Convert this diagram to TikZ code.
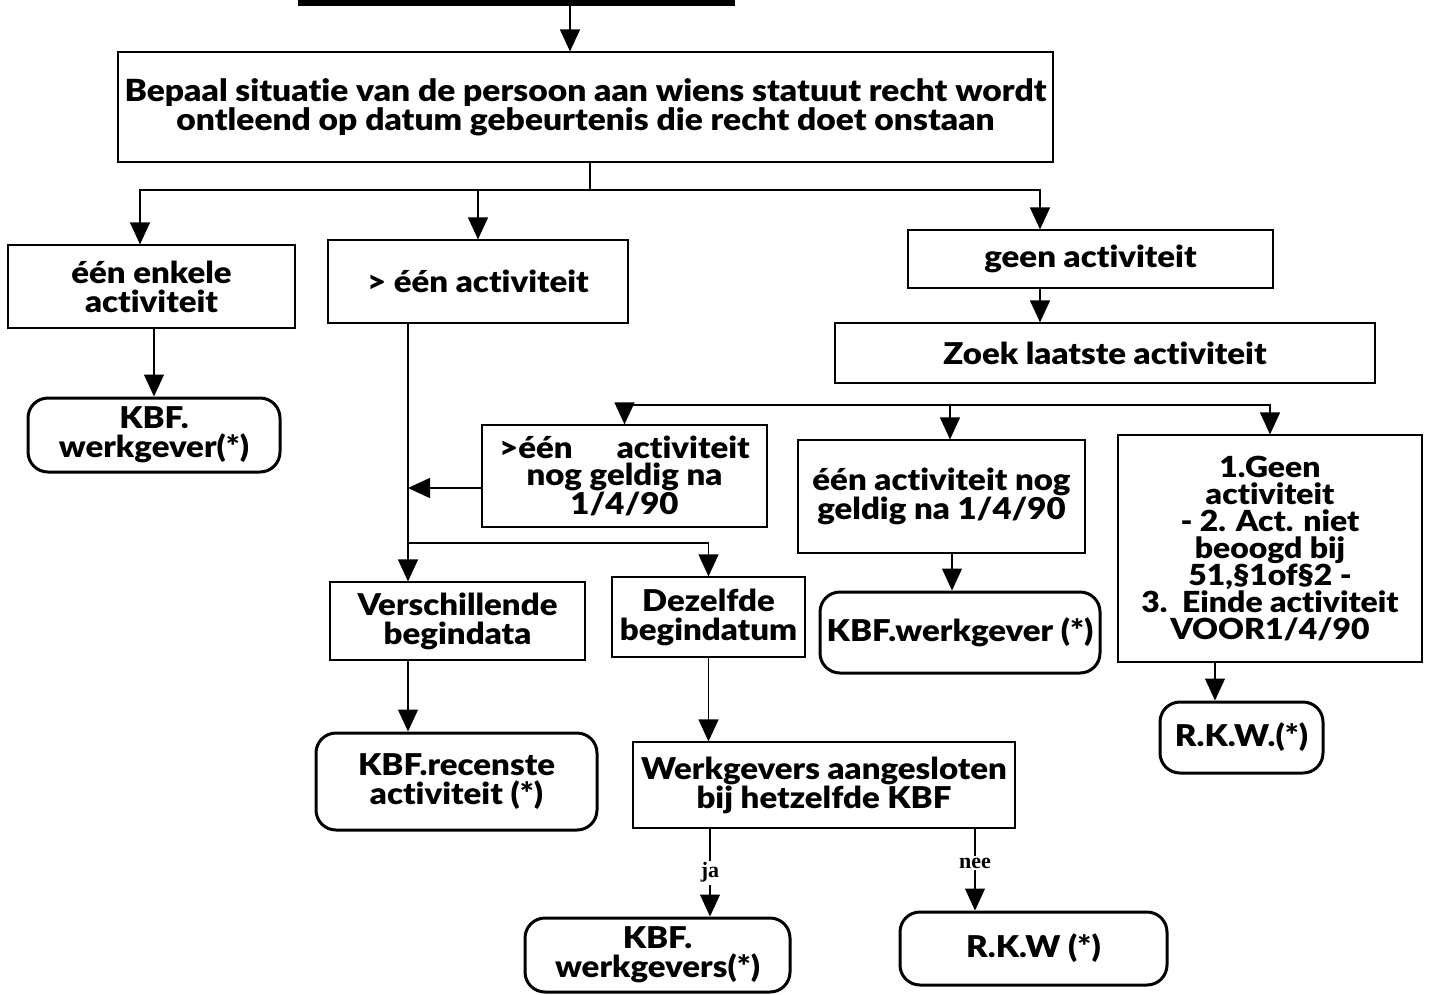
\documentclass[tikz,border=0pt]{standalone}
\usepackage{fontspec}
\setmainfont{Lato}[BoldFont={Lato Black}, BoldFeatures={FakeStretch=1.1}, Ligatures=NoCommon]
\newfontfamily\labelfont{Liberation Serif}
\usetikzlibrary{arrows.meta}

\begin{document}
\begin{tikzpicture}[x=1pt,y=-1pt,
		box/.style={draw, line width=1.2pt, align=center, inner sep=0pt, font=\fontsize{30}{29}\selectfont\bfseries},
		endbox/.style={box, line width=3pt, rounded corners=20pt},
		arr/.style={line width=1.2pt, -{Triangle[width=20pt,length=22pt]}},
		lijn/.style={line width=1.2pt},
		lbl/.style={fill=white, inner sep=2pt, font=\fontsize{22}{22}\selectfont\labelfont\bfseries}]
		\useasboundingbox (0,0) rectangle (1430,994);

		\node[fill=black, minimum width=437pt, minimum height=6pt, inner sep=0pt] (balk) at (516.5,3) {};
		\node[box, minimum width=935pt, minimum height=110pt, font=\fontsize{30.5}{23}\selectfont\bfseries] (bepaal) at (585.5,107) {Bepaal situatie van de persoon aan wiens statuut recht wordt\\ontleend op datum gebeurtenis die recht doet onstaan};

		\node[box, minimum width=287pt, minimum height=83pt] (enkel) at (151.5,286.5) {één enkele\\activiteit};
		\node[box, minimum width=300pt, minimum height=83pt] (meer) at (478,281.5) {> één activiteit};
		\node[box, minimum width=365pt, minimum height=58pt] (geen) at (1090.5,259) {geen activiteit};
		\node[box, minimum width=540pt, minimum height=60pt] (zoek) at (1105,353) {Zoek laatste activiteit};
		\node[endbox, minimum width=252pt, minimum height=74pt] (kbfeen) at (154,435) {KBF.\\werkgever(*)};

		\node[box, minimum width=285pt, minimum height=102pt, font=\fontsize{30}{27}\selectfont\bfseries] (meergeldig) at (624.5,476) {>één\hspace{44pt}activiteit\\nog geldig na\\1/4/90};
		\node[box, minimum width=287pt, minimum height=113pt] (eengeldig) at (941.5,496.5) {één activiteit nog\\geldig na 1/4/90};
		\node[box, minimum width=304pt, minimum height=227pt, font=\fontsize{29}{27}\selectfont\bfseries] (geenact) at (1270,548.5) {1.Geen\\activiteit\\- 2. Act. niet\\beoogd bij\\51,§1of§2 -\\3.~~Einde activiteit\\VOOR1/4/90};

		\node[box, minimum width=255pt, minimum height=78pt] (verschil) at (457.5,621) {Verschillende\\begindata};
		\node[box, minimum width=193pt, minimum height=80pt] (zelfde) at (708.5,617) {Dezelfde\\begindatum};
		\node[endbox, minimum width=280pt, minimum height=81pt] (kbfwg) at (960,632.5) {KBF.werkgever (*)};
		\node[endbox, minimum width=163pt, minimum height=71pt] (rkween) at (1241.5,737.5) {R.K.W.(*)};

		\node[endbox, minimum width=281pt, minimum height=97pt] (kbfrec) at (456.5,781.5) {KBF.recenste\\activiteit (*)};
		\node[box, minimum width=382pt, minimum height=86pt] (werkg) at (824,785) {Werkgevers aangesloten\\bij hetzelfde KBF};
		\node[endbox, minimum width=265pt, minimum height=74pt] (kbfwgs) at (657.5,955) {KBF.\\werkgevers(*)};
		\node[endbox, minimum width=267pt, minimum height=73pt] (rkwtwee) at (1033.5,948.5) {R.K.W (*)};

		\coordinate (k1) at (570,0);
		\coordinate (s1) at (590,190);
		\coordinate (k2) at (140,0);
		\coordinate (k3) at (1040,0);
		\coordinate (s2) at (950,405);
		\coordinate (s3) at (408,543);
		\coordinate (k4) at (0,488);
		\coordinate (k5) at (710,0);
		\coordinate (k6) at (975,0);
		\coordinate (k7) at (952,0);
		\coordinate (k8) at (1215,0);

		\draw[arr] (balk.south -| k1) -- (bepaal.north -| k1);
		\draw[lijn] (bepaal.south -| s1) -- (s1);
		\draw[arr] (s1) -| (enkel.north -| k2);
		\draw[arr] (s1) -| (geen.north -| k3);
		\draw[arr] (s1 -| meer) -- (meer.north);
		\draw[arr] (geen.south -| k3) -- (zoek.north -| k3);
		\draw[arr] (enkel.south -| kbfeen) -- (kbfeen.north);

		\draw[arr] (s2) -| (meergeldig.north);
		\draw[arr] (s2) -| (geenact.north);
		\draw[arr] (s2) -- (eengeldig.north -| s2);
		\draw[arr] (eengeldig.south -| k7) -- (kbfwg.north -| k7);
		\draw[arr] (geenact.south -| k8) -- (rkween.north -| k8);

		\draw[lijn] (meer.south -| s3) -- (s3);
		\draw[arr] (meergeldig.west |- k4) -- (s3 |- k4);
		\draw[arr] (s3) -- (verschil.north -| s3);
		\draw[arr] (s3) -| (zelfde.north);
		\draw[arr] (verschil.south -| s3) -- (kbfrec.north -| s3);
		\draw[arr] (zelfde.south) -- (werkg.north -| zelfde.south);
		\draw[arr] (werkg.south -| k5) -- node[lbl] {ja} (kbfwgs.north -| k5);
		\draw[arr] (werkg.south -| k6) -- node[lbl, pos=0.42] {nee} (rkwtwee.north -| k6);

	\end{tikzpicture}
\end{document}
